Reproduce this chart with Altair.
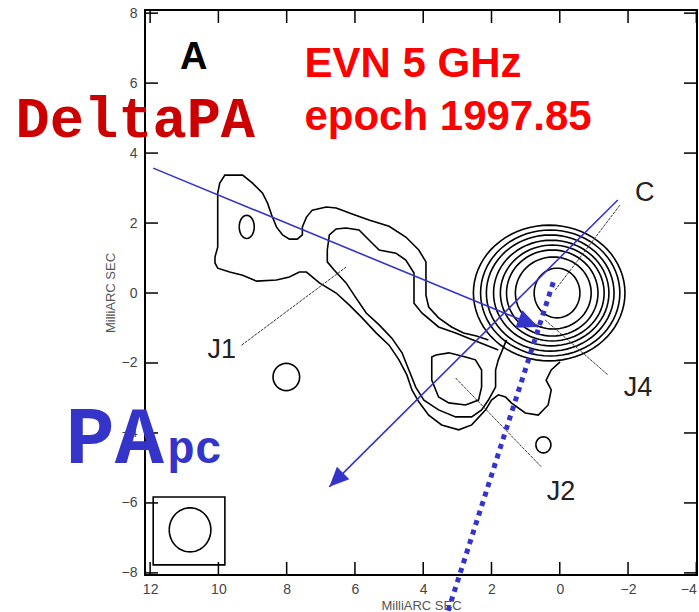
import numpy as np
import pandas as pd
import altair as alt

# ---------------- data (milli-arcseconds) ----------------
X_TICKS = [12, 10, 8, 6, 4, 2, 0, -2, -4]
Y_TICKS = [8, 6, 4, 2, 0, -2, -4, -6, -8]
X_DOMAIN = [12.15, -4.02]
Y_DOMAIN = [-8.06, 8.09]

# core component: nested contour rings (centre, semi-axes)
CORE_CX = [0.08, 0.19, 0.22, 0.22, 0.25, 0.28, 0.28, 0.31]
CORE_CY = [0.0, 0.0, 0.0, 0.0, 0.0, 0.0, 0.0, 0.0]
CORE_RX = [0.67, 1.11, 1.34, 1.52, 1.69, 1.87, 2.04, 2.22]
CORE_RY = [0.71, 1.03, 1.23, 1.37, 1.51, 1.66, 1.80, 1.94]

# isolated small contour islands (centre, semi-axes)
BLOB_CX = [9.17, 8.01, 0.48]
BLOB_CY = [1.89, -2.40, -4.34]
BLOB_RX = [0.22, 0.39, 0.22]
BLOB_RY = [0.33, 0.39, 0.23]

# restoring beam (lower-left box)
BEAM_CX, BEAM_CY, BEAM_RX, BEAM_RY = 10.83, -6.77, 0.61, 0.63
BEAM_BOX_X = [11.91, 9.81]
BEAM_BOX_Y = [-5.83, -7.77]

# jet: lowest contour level
JET1_X = [2.09, 2.44, 2.82, 3.17, 3.55, 3.84, 3.92, 3.92, 4.13, 4.51, 5.00, 5.59, 6.08, 6.55,
          6.84, 7.25, 7.42, 7.54, 7.54, 7.69, 7.92, 8.12, 8.30, 8.44, 8.56, 8.71, 9.00, 9.29,
          9.81, 9.96, 10.02, 10.02, 10.02, 10.10, 10.10, 10.02, 9.67, 9.29, 8.88, 8.30, 7.92,
          7.63, 7.42, 7.04, 6.55, 6.17, 5.79, 5.38, 5.00, 4.71, 4.48, 4.33, 4.13, 3.84, 3.46,
          2.96, 2.58, 2.17, 2.00, 1.80, 1.59, 1.42, 1.01, 0.63, 0.34, 0.25, 0.40, 0.25, -0.01]
JET1_Y = [-1.34, -1.23, -1.14, -0.97, -0.71, -0.40, -0.06, 0.89, 1.23, 1.60, 1.91, 2.09, 2.26, 2.43,
          2.46, 2.37, 2.17, 1.89, 1.66, 1.54, 1.54, 1.66, 1.89, 2.23, 2.57, 2.86, 3.14, 3.37,
          3.37, 3.14, 2.86, 1.89, 1.31, 1.03, 0.86, 0.71, 0.60, 0.51, 0.34, 0.37, 0.46,
          0.60, 0.60, 0.29, 0.00, -0.34, -0.71, -1.14, -1.49, -1.91, -2.34, -2.77, -3.11, -3.49, -3.77,
          -3.91, -3.77, -3.34, -3.06, -2.91, -2.97, -3.14, -3.43, -3.49, -3.20, -2.77, -2.49, -2.20, -1.97]

# jet: second contour level
JET2_X = [1.80, 2.15, 2.67, 3.05, 3.55, 4.04, 4.27, 4.27, 4.51, 4.80, 5.29, 5.50, 5.88, 6.26,
          6.55, 6.75, 6.81, 6.81, 6.61, 6.26, 5.97, 5.67, 5.29, 4.92, 4.62, 4.42, 4.22, 3.98,
          3.55, 3.05, 2.58, 2.29, 2.09, 1.88, 1.88, 1.80, 1.56]
JET2_Y = [-1.63, -1.49, -1.29, -1.14, -0.97, -0.57, -0.29, 0.57, 0.94, 1.14, 1.23, 1.43, 1.80, 1.86,
          1.83, 1.66, 1.23, 0.89, 0.66, 0.29, -0.14, -0.57, -0.91, -1.29, -1.71, -2.20, -2.69, -3.06,
          -3.34, -3.54, -3.54, -3.34, -3.06, -2.69, -2.20, -1.91, -1.34]

# jet: third level (J2 knot)
JET3_X = [3.63, 3.25, 2.76, 2.47, 2.29, 2.29, 2.38, 2.76, 3.25, 3.55, 3.75, 3.75, 3.63]
JET3_Y = [-1.77, -1.71, -1.83, -1.91, -2.20, -2.69, -3.06, -3.20, -3.14, -2.97, -2.49, -1.83, -1.77]

# component labels and leader lines
LABELS = ["C", "J1", "J2", "J4"]
LABEL_X = [-2.49, 9.90, -0.04, -2.29]
LABEL_Y = [2.86, -1.63, -5.69, -2.71]
LEAD_X = [-1.76, 9.32, 3.05, 0.43]
LEAD_Y = [2.51, -1.49, -2.43, -0.77]
LEAD_X2 = [0.13, 6.26, 0.54, -1.41]
LEAD_Y2 = [0.09, 0.74, -4.97, -2.34]

# blue annotation lines
DPA_LINE = dict(x=11.91, y=3.57, x2=0.63, y2=-0.97)
PAPC_LINE = dict(x=-1.70, y=2.66, x2=6.75, y2=-5.54)
DOT_LINE = dict(x=0.19, y=0.31, x2=3.28, y2=-9.11)

# texts
PANEL_TEXT = ["A"]
PANEL_X, PANEL_Y = [10.72], [6.71]
HEAD_TEXT = ["EVN 5 GHz", "epoch 1997.85"]
HEAD_X = [7.48, 7.48]
HEAD_Y = [6.17, 4.66]

BLUE = "#3434c8"

# ---------------- build tables ----------------
rows = []


def add_path(pid, xs, ys):
    for i, (a, b) in enumerate(zip(xs, ys)):
        rows.append({"pid": pid, "i": i, "x": a, "y": b})


def add_ellipse(pid, cx, cy, rx, ry, n=72):
    t = np.linspace(0, 2 * np.pi, n + 1)
    add_path(pid, cx + rx * np.cos(t), cy + ry * np.sin(t))


for k in range(len(CORE_CX)):
    add_ellipse(f"core{k}", CORE_CX[k], CORE_CY[k], CORE_RX[k], CORE_RY[k])
for k in range(len(BLOB_CX)):
    add_ellipse(f"blob{k}", BLOB_CX[k], BLOB_CY[k], BLOB_RX[k], BLOB_RY[k], n=36)
add_ellipse("beam", BEAM_CX, BEAM_CY, BEAM_RX, BEAM_RY)
add_path("jet1", JET1_X, JET1_Y)
add_path("jet2", JET2_X, JET2_Y)
add_path("jet3", JET3_X, JET3_Y)
contours = pd.DataFrame(rows)

W, H = 552, 565
TL = 13

xs = alt.Scale(domain=X_DOMAIN, nice=False, zero=False)
ys = alt.Scale(domain=Y_DOMAIN, nice=False, zero=False)

X = alt.X("x:Q", scale=xs, axis=alt.Axis(values=X_TICKS, title="MilliARC SEC", grid=False,
                                        ticks=False, domain=False, labelPadding=7,
                                        titlePadding=3))
Y = alt.Y("y:Q", scale=ys, axis=alt.Axis(values=Y_TICKS, title="MilliARC SEC", grid=False,
                                        ticks=False, domain=False, labelPadding=8,
                                        titlePadding=4))

contour_layer = alt.Chart(contours).mark_line(color="black", strokeWidth=1.6).encode(
    x=X, y=Y, detail="pid:N", order="i:Q")

box = alt.Chart(pd.DataFrame({"x": [BEAM_BOX_X[0]], "x2": [BEAM_BOX_X[1]],
                              "y": [BEAM_BOX_Y[0]], "y2": [BEAM_BOX_Y[1]]})).mark_rect(
    fill=None, stroke="black", strokeWidth=1.6).encode(x=X, x2="x2:Q", y=Y, y2="y2:Q")

leaders = alt.Chart(pd.DataFrame({"x": LEAD_X, "y": LEAD_Y, "x2": LEAD_X2, "y2": LEAD_Y2})).mark_rule(
    color="#333333", strokeWidth=1, strokeDash=[3, 1]).encode(x=X, y=Y, x2="x2:Q", y2="y2:Q")

labels = alt.Chart(pd.DataFrame({"x": LABEL_X, "y": LABEL_Y, "t": LABELS})).mark_text(
    font="Liberation Sans", fontSize=27, color="#222222", align="center", baseline="middle").encode(
    x=X, y=Y, text="t:N")

panel = alt.Chart(pd.DataFrame({"x": PANEL_X, "y": PANEL_Y, "t": PANEL_TEXT})).mark_text(
    font="Liberation Sans", fontSize=38, fontWeight="bold", color="black", align="center",
    baseline="middle").encode(x=X, y=Y, text="t:N")

head = alt.Chart(pd.DataFrame({"x": HEAD_X, "y": HEAD_Y, "t": HEAD_TEXT})).mark_text(
    font="Liberation Sans", fontSize=42, fontWeight="bold", color="#ff0000", align="left",
    baseline="alphabetic").encode(x=X, y=Y, text="t:N")

dpa_text = alt.Chart(pd.DataFrame({"x": [15.94], "y": [4.46], "t": ["DeltaPA"]})).mark_text(
    font="Liberation Mono", fontSize=57, fontWeight="bold", color="#cc0000", align="left",
    baseline="alphabetic").encode(x=X, y=Y, text="t:N")

pa_text = alt.Chart(pd.DataFrame({"x": [14.48], "y": [-4.86], "t": ["PA"]})).mark_text(
    font="Liberation Mono", fontSize=82, fontWeight="bold", color=BLUE, align="left",
    baseline="alphabetic").encode(x=X, y=Y, text="t:N")

pc_text = alt.Chart(pd.DataFrame({"x": [11.50], "y": [-4.86], "t": ["pc"]})).mark_text(
    font="Liberation Mono", fontSize=46, fontWeight="bold", color=BLUE, align="left",
    baseline="alphabetic").encode(x=X, y=Y, text="t:N")


def seg(d):
    return pd.DataFrame({k: [v] for k, v in d.items()})


dpa_line = alt.Chart(seg(DPA_LINE)).mark_rule(color=BLUE, strokeWidth=1.6).encode(
    x=X, y=Y, x2="x2:Q", y2="y2:Q")
papc_line = alt.Chart(seg(PAPC_LINE)).mark_rule(color=BLUE, strokeWidth=1.6).encode(
    x=X, y=Y, x2="x2:Q", y2="y2:Q")
dot_line = alt.Chart(seg(DOT_LINE)).mark_rule(color=BLUE, strokeWidth=5, strokeDash=[5, 5],
                                              clip=False).encode(x=X, y=Y, x2="x2:Q", y2="y2:Q")

ARROW = "M0,0L-0.9,2L0.9,2Z"
dpa_head = alt.Chart(pd.DataFrame({"x": [DPA_LINE["x2"]], "y": [DPA_LINE["y2"]]})).mark_point(
    shape=ARROW, filled=True, size=441, angle=112, color=BLUE, opacity=1, strokeWidth=0).encode(x=X, y=Y)
papc_head = alt.Chart(pd.DataFrame({"x": [PAPC_LINE["x2"]], "y": [PAPC_LINE["y2"]]})).mark_point(
    shape=ARROW, filled=True, size=380, angle=225, color=BLUE, opacity=1, strokeWidth=0).encode(x=X, y=Y)

# inward tick marks on all four sides
xt = pd.DataFrame({"x": X_TICKS})
yt = pd.DataFrame({"y": Y_TICKS})
tick_b = alt.Chart(xt).mark_rule(color="black", strokeWidth=1.5).encode(
    x=X, y=alt.value(H), y2=alt.value(H - TL))
tick_t = alt.Chart(xt).mark_rule(color="black", strokeWidth=1.5).encode(
    x=X, y=alt.value(0), y2=alt.value(TL))
tick_l = alt.Chart(yt).mark_rule(color="black", strokeWidth=1.5).encode(
    y=Y, x=alt.value(0), x2=alt.value(TL))
tick_r = alt.Chart(yt).mark_rule(color="black", strokeWidth=1.5).encode(
    y=Y, x=alt.value(W), x2=alt.value(W - TL))

chart = alt.layer(
    contour_layer, box, leaders, tick_b, tick_t, tick_l, tick_r,
    dpa_line, papc_line, dot_line, dpa_head, papc_head,
    labels, panel, head, dpa_text, pa_text, pc_text,
).properties(
    width=W, height=H,
    autosize=alt.AutoSizeParams(type="none"),
    padding={"left": 145, "top": 10, "right": 2, "bottom": 37},
    background="white",
).configure_view(
    stroke="black", strokeWidth=2
).configure_axis(
    labelFont="Liberation Sans", labelFontSize=14, labelColor="#444444",
    titleFont="Liberation Sans", titleFontSize=13, titleFontWeight="normal", titleColor="#555555",
)

chart.save("out.html", embed_options={"renderer": "svg", "actions": False})
